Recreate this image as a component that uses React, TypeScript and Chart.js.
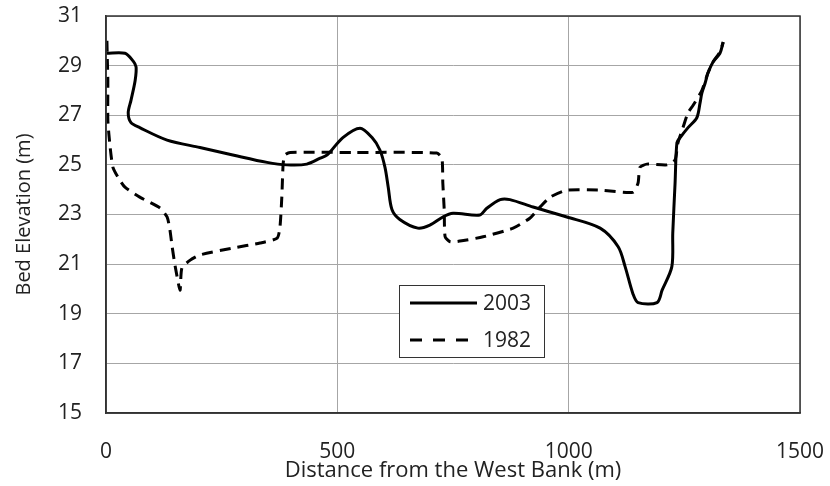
import React, { useEffect, useRef } from "react";
import { Chart, registerables } from "chart.js";

Chart.register(...registerables);

// Cross-section survey 2003 (solid)
const dist2003 = [1, 41, 58, 65, 63, 54, 48, 54, 73, 132, 203, 274, 348, 391, 434, 463, 478, 512, 549, 575, 592, 603, 610, 618, 635, 674, 700, 728, 750, 808, 823, 852, 873, 923, 996, 1068, 1107, 1122, 1139, 1150, 1191, 1202, 1223, 1225, 1230, 1234, 1241, 1258, 1277, 1284, 1288, 1295, 1301, 1312, 1327, 1334];
const elev2003 = [29.5, 29.5, 29.2, 28.95, 28.4, 27.6, 27.1, 26.7, 26.5, 26.0, 25.7, 25.4, 25.1, 25.0, 25.03, 25.27, 25.4, 26.1, 26.48, 26.1, 25.6, 24.9, 24.1, 23.2, 22.8, 22.45, 22.57, 22.9, 23.05, 22.98, 23.25, 23.6, 23.6, 23.3, 22.9, 22.45, 21.7, 20.9, 19.8, 19.45, 19.45, 19.95, 20.9, 22.25, 24.27, 25.9, 26.1, 26.5, 26.9, 27.5, 27.9, 28.3, 28.7, 29.15, 29.5, 29.95];

// Cross-section survey 1982 (dashed)
const dist1982 = [2, 3, 4, 4, 9, 15, 26, 41, 73, 117, 132, 138, 143, 149, 160, 164, 182, 203, 274, 333, 370, 376, 380, 383, 387, 398, 534, 715, 726, 728, 731, 733, 744, 765, 815, 880, 916, 938, 960, 996, 1068, 1139, 1150, 1154, 1169, 1213, 1230, 1236, 1247, 1258, 1269, 1288, 1301, 1312, 1327, 1334];
const elev1982 = [30.0, 29.15, 28.4, 26.8, 25.7, 24.9, 24.5, 24.1, 23.7, 23.26, 22.9, 22.4, 21.7, 20.97, 19.95, 20.84, 21.16, 21.37, 21.65, 21.85, 22.05, 22.5, 23.7, 25.07, 25.4, 25.5, 25.5, 25.48, 25.27, 24.27, 23.2, 22.1, 21.9, 21.93, 22.1, 22.45, 22.85, 23.3, 23.7, 23.98, 23.98, 23.9, 24.27, 24.9, 25.03, 25.0, 25.2, 25.88, 26.5, 27.1, 27.4, 28.0, 28.7, 29.15, 29.55, 29.95];

const seriesNames = ["2003", "1982"];
const xTitle = "Distance from the West Bank (m)";
const yTitle = "Bed Elevation (m)";
const xRange = [0, 1500];
const xStep = 500;
const yRange = [15, 31];
const yStep = 2;

const FONT = "'Open Sans', sans-serif";

const toPoints = (xs: number[], ys: number[]) => xs.map((x, i) => ({ x, y: ys[i] }));

const framePlugin = {
  id: "frameAndLegend",
  afterDraw(chart: any) {
    const { ctx, chartArea: ca } = chart;
    ctx.save();
    ctx.strokeStyle = "#333";
    ctx.lineWidth = 1.5;
    ctx.strokeRect(ca.left, ca.top, ca.right - ca.left, ca.bottom - ca.top);

    // legend box
    const lx = ca.left + 293;
    const ly = ca.top + 269;
    const lw = 145;
    const lh = 72;
    ctx.fillStyle = "#fff";
    ctx.fillRect(lx, ly, lw, lh);
    ctx.lineWidth = 1;
    ctx.strokeStyle = "#333";
    ctx.strokeRect(lx + 0.5, ly + 0.5, lw, lh);
    const rows = [ly + 18, ly + 55];
    ctx.lineWidth = 3;
    ctx.strokeStyle = "#000";
    rows.forEach((ry, i) => {
      ctx.setLineDash(i === 0 ? [] : [12, 11]);
      ctx.beginPath();
      ctx.moveTo(lx + 11, ry);
      ctx.lineTo(lx + 78, ry);
      ctx.stroke();
    });
    ctx.setLineDash([]);
    ctx.fillStyle = "#222";
    ctx.font = `21px ${FONT}`;
    ctx.textBaseline = "middle";
    ctx.textAlign = "left";
    rows.forEach((ry, i) => {
      ctx.fillText(seriesNames[i], lx + 84, ry + 1);
    });
    ctx.restore();
  },
};

export default function App() {
  const ref = useRef<HTMLCanvasElement>(null);
  useEffect(() => {
    if (!ref.current) return;
    const chart = new Chart(ref.current, {
      type: "line",
      data: {
        datasets: [
          {
            label: seriesNames[0],
            data: toPoints(dist2003, elev2003),
            borderColor: "#000",
            borderWidth: 3,
            pointRadius: 0,
            tension: 0.3,
            fill: false,
          },
          {
            label: seriesNames[1],
            data: toPoints(dist1982, elev1982),
            borderColor: "#000",
            borderWidth: 3,
            borderDash: [11, 7],
            pointRadius: 0,
            tension: 0.2,
            fill: false,
          },
        ],
      },
      options: {
        animation: false,
        responsive: false,
        maintainAspectRatio: false,
        layout: { padding: 0 },
        plugins: { legend: { display: false }, tooltip: { enabled: false } },
        scales: {
          x: {
            type: "linear",
            min: xRange[0],
            max: xRange[1],
            afterFit: (s: any) => { s.height = 73; s.paddingRight = 30; s.paddingLeft = 0; },
            ticks: { stepSize: xStep, padding: 26, color: "#222", font: { family: FONT, size: 21 }, callback: (v: any) => String(v) },
            grid: { color: "#a6a6a6", lineWidth: 1, drawTicks: false },
            border: { color: "#333", width: 1.5 },
            title: { display: true, text: xTitle, color: "#222", font: { family: FONT, size: 22 }, padding: { top: 0, bottom: 2 } },
          },
          y: {
            type: "linear",
            min: yRange[0],
            max: yRange[1],
            afterFit: (s: any) => { s.width = 106; s.paddingTop = 16; s.paddingBottom = 0; },
            ticks: { stepSize: yStep, padding: 24, color: "#222", font: { family: FONT, size: 21 }, callback: (v: any) => String(v) },
            grid: { color: "#a6a6a6", lineWidth: 1, drawTicks: false },
            border: { color: "#333", width: 1.5 },
            title: { display: true, text: yTitle, color: "#222", font: { family: FONT, size: 20 }, padding: { top: 12, bottom: 0 } },
          },
        },
      },
      plugins: [framePlugin],
    });
    return () => chart.destroy();
  }, []);
  return (
    <div style={{ position: "fixed", left: 0, top: 0, width: 830, height: 486, background: "#fff" }}>
      <canvas ref={ref} width={830} height={486} style={{ width: 830, height: 486, display: "block" }} />
    </div>
  );
}
